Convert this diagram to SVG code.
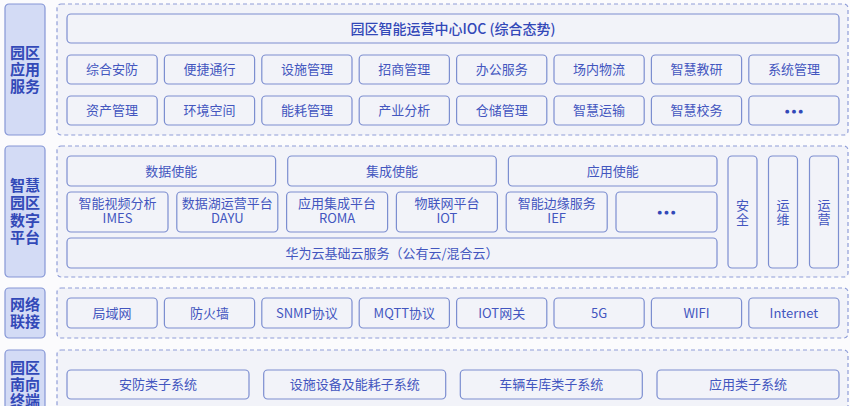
<svg xmlns="http://www.w3.org/2000/svg" width="850" height="406" viewBox="0 0 850 406">
<style>
.bg{fill:#fbfbfd}
.side{fill:#d3dbf5;stroke:#8596d6;stroke-width:1.2}
.sidet{font-family:"Noto Sans CJK SC","Noto Sans",sans-serif;font-size:15px;font-weight:bold;fill:#3249b8;text-anchor:middle}
.layer{fill:#f2f3f9;stroke:#8f9dd8;stroke-width:1.2;stroke-dasharray:4 3}
.box{fill:#f2f3f9;stroke:#7c8ed0;stroke-width:1.2}
.t{font-family:"Noto Sans CJK SC","Noto Sans",sans-serif;font-size:13px;fill:#4356bf;text-anchor:middle}
.v{writing-mode:vertical-rl;letter-spacing:1px}
.title{font-family:"Noto Sans CJK SC","Noto Sans",sans-serif;font-size:14px;font-weight:500;fill:#3248b8;text-anchor:middle}
.dots{font-family:"DejaVu Sans",sans-serif;font-size:5px;fill:#3248b8;text-anchor:middle;letter-spacing:2.5px}
</style>
<rect class="bg" x="0" y="0" width="850" height="406"/>

<!-- Layer 1 -->
<g id="layer-app">
<rect class="side" x="5" y="4" width="40" height="131" rx="4"/>
<text class="sidet" x="25" y="57.5">园区<tspan x="25" dy="17.5">应用</tspan><tspan x="25" dy="17">服务</tspan></text>
<rect class="layer" x="57" y="4" width="791" height="131" rx="4"/>
</g>
<g id="ioc"><rect class="box" x="67" y="14" width="772" height="29" rx="4"/><text class="title" x="453" y="33.5">园区智能运营中心IOC (综合态势)</text></g>
<g id="r1">
<rect class="box" x="67" y="55" width="90.2" height="29" rx="4"/><text class="t" x="112.1" y="74">综合安防</text>
<rect class="box" x="164.4" y="55" width="90.2" height="29" rx="4"/><text class="t" x="209.5" y="74">便捷通行</text>
<rect class="box" x="261.8" y="55" width="90.2" height="29" rx="4"/><text class="t" x="306.9" y="74">设施管理</text>
<rect class="box" x="359.2" y="55" width="90.2" height="29" rx="4"/><text class="t" x="404.3" y="74">招商管理</text>
<rect class="box" x="456.6" y="55" width="90.2" height="29" rx="4"/><text class="t" x="501.7" y="74">办公服务</text>
<rect class="box" x="554" y="55" width="90.2" height="29" rx="4"/><text class="t" x="599.1" y="74">场内物流</text>
<rect class="box" x="651.4" y="55" width="90.2" height="29" rx="4"/><text class="t" x="696.5" y="74">智慧教研</text>
<rect class="box" x="748.8" y="55" width="90.2" height="29" rx="4"/><text class="t" x="793.9" y="74">系统管理</text>
</g>
<g id="r2">
<rect class="box" x="67" y="96" width="90.2" height="29" rx="4"/><text class="t" x="112.1" y="115">资产管理</text>
<rect class="box" x="164.4" y="96" width="90.2" height="29" rx="4"/><text class="t" x="209.5" y="115">环境空间</text>
<rect class="box" x="261.8" y="96" width="90.2" height="29" rx="4"/><text class="t" x="306.9" y="115">能耗管理</text>
<rect class="box" x="359.2" y="96" width="90.2" height="29" rx="4"/><text class="t" x="404.3" y="115">产业分析</text>
<rect class="box" x="456.6" y="96" width="90.2" height="29" rx="4"/><text class="t" x="501.7" y="115">仓储管理</text>
<rect class="box" x="554" y="96" width="90.2" height="29" rx="4"/><text class="t" x="599.1" y="115">智慧运输</text>
<rect class="box" x="651.4" y="96" width="90.2" height="29" rx="4"/><text class="t" x="696.5" y="115">智慧校务</text>
<rect class="box" x="748.8" y="96" width="90.2" height="29" rx="4"/><text class="dots" x="795.2" y="112.5">●●●</text>
</g>

<!-- Layer 2 -->
<g id="layer-platform">
<rect class="side" x="5" y="146" width="40" height="131" rx="4"/>
<text class="sidet" x="25" y="190.5">智慧<tspan x="25" dy="17.5">园区</tspan><tspan x="25" dy="17.5">数字</tspan><tspan x="25" dy="17.5">平台</tspan></text>
<rect class="layer" x="57" y="146" width="791" height="131" rx="4"/>
</g>
<g id="enable">
<rect class="box" x="67" y="156" width="208.6" height="30" rx="4"/><text class="t" x="171.3" y="175.5">数据使能</text>
<rect class="box" x="287.7" y="156" width="208.6" height="30" rx="4"/><text class="t" x="392" y="175.5">集成使能</text>
<rect class="box" x="508.4" y="156" width="208.6" height="30" rx="4"/><text class="t" x="612.7" y="175.5">应用使能</text>
</g>
<g id="platforms">
<rect class="box" x="67" y="192" width="101" height="40" rx="4"/><text class="t" x="117.5" y="208">智能视频分析<tspan x="117.5" dy="15">IMES</tspan></text>
<rect class="box" x="176.8" y="192" width="101" height="40" rx="4"/><text class="t" x="227.3" y="208">数据湖运营平台<tspan x="227.3" dy="15">DAYU</tspan></text>
<rect class="box" x="286.6" y="192" width="101" height="40" rx="4"/><text class="t" x="337.1" y="208">应用集成平台<tspan x="337.1" dy="15">ROMA</tspan></text>
<rect class="box" x="396.4" y="192" width="101" height="40" rx="4"/><text class="t" x="446.9" y="208">物联网平台<tspan x="446.9" dy="15">IOT</tspan></text>
<rect class="box" x="506.2" y="192" width="101" height="40" rx="4"/><text class="t" x="556.7" y="208">智能边缘服务<tspan x="556.7" dy="15">IEF</tspan></text>
<rect class="box" x="616" y="192" width="101" height="40" rx="4"/><text class="dots" x="667.7" y="213.5">●●●</text>
</g>
<g id="cloud"><rect class="box" x="67" y="238" width="650" height="30" rx="4"/><text class="t" x="392" y="257.5">华为云基础云服务（公有云/混合云）</text></g>
<g id="side-ops">
<rect class="box" x="728" y="156" width="29" height="112" rx="4"/><text class="t v" x="742.5" y="213">安全</text>
<rect class="box" x="768.5" y="156" width="29" height="112" rx="4"/><text class="t v" x="783" y="213">运维</text>
<rect class="box" x="809.5" y="156" width="29" height="112" rx="4"/><text class="t v" x="824" y="213">运营</text>
</g>

<!-- Layer 3 -->
<g id="layer-network">
<rect class="side" x="5" y="288" width="40" height="50" rx="4"/>
<text class="sidet" x="25" y="309.5">网络<tspan x="25" dy="17.5">联接</tspan></text>
<rect class="layer" x="57" y="288" width="791" height="50" rx="4"/>
</g>
<g id="net">
<rect class="box" x="67" y="298" width="90.2" height="30" rx="4"/><text class="t" x="112.1" y="317.5">局域网</text>
<rect class="box" x="164.4" y="298" width="90.2" height="30" rx="4"/><text class="t" x="209.5" y="317.5">防火墙</text>
<rect class="box" x="261.8" y="298" width="90.2" height="30" rx="4"/><text class="t" x="306.9" y="317.5">SNMP协议</text>
<rect class="box" x="359.2" y="298" width="90.2" height="30" rx="4"/><text class="t" x="404.3" y="317.5">MQTT协议</text>
<rect class="box" x="456.6" y="298" width="90.2" height="30" rx="4"/><text class="t" x="501.7" y="317.5">IOT网关</text>
<rect class="box" x="554" y="298" width="90.2" height="30" rx="4"/><text class="t" x="599.1" y="317.5">5G</text>
<rect class="box" x="651.4" y="298" width="90.2" height="30" rx="4"/><text class="t" x="696.5" y="317.5">WIFI</text>
<rect class="box" x="748.8" y="298" width="90.2" height="30" rx="4"/><text class="t" x="793.9" y="317.5">Internet</text>
</g>

<!-- Layer 4 -->
<g id="layer-south">
<rect class="side" x="5" y="350" width="40" height="64" rx="4"/>
<text class="sidet" x="25" y="372.5">园区<tspan x="25" dy="17">南向</tspan><tspan x="25" dy="16.5">终端</tspan></text>
<rect class="layer" x="57" y="350" width="791" height="64" rx="4"/>
</g>
<g id="south">
<rect class="box" x="67" y="370" width="182" height="29" rx="4"/><text class="t" x="158" y="389">安防类子系统</text>
<rect class="box" x="263.7" y="370" width="182" height="29" rx="4"/><text class="t" x="354.7" y="389">设施设备及能耗子系统</text>
<rect class="box" x="460.3" y="370" width="182" height="29" rx="4"/><text class="t" x="551.3" y="389">车辆车库类子系统</text>
<rect class="box" x="657" y="370" width="182" height="29" rx="4"/><text class="t" x="748" y="389">应用类子系统</text>
</g>
<g id="connectors"></g>
</svg>
